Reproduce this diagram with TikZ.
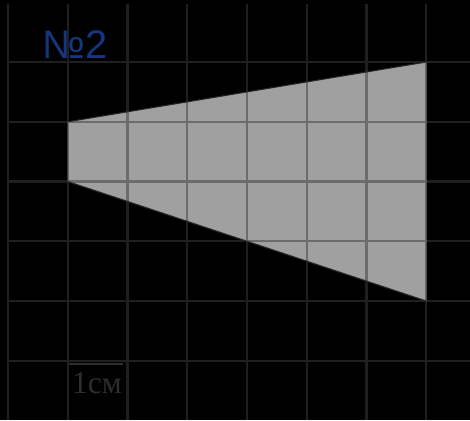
\documentclass[tikz,border=0pt]{standalone}
\usepackage{fontspec}
\setmainfont{Liberation Sans}
\newfontfamily\scalefont{Liberation Serif}
\usepackage{tikz}

\definecolor{gridgray}{HTML}{1F1F1F}
\definecolor{innergrid}{HTML}{6C6C6C}
\definecolor{figgray}{HTML}{A0A0A0}
\definecolor{titleblue}{HTML}{16357F}
\definecolor{scalegray}{HTML}{2E2E2E}

\begin{document}
\begin{tikzpicture}[gridline/.style={gridgray, line width=1pt}]
    \fill[black] (-0.134,1.038) rectangle (7.732,-5.992);
    \useasboundingbox (-0.134,1.038) rectangle (7.732,-5.992);

    % squared paper
    \foreach \i in {0,...,7}
        \draw[gridline] (\i,0.97) -- (\i,-5.992);
    \foreach \j in {0,...,5}
        \draw[gridline] (0,-\j) -- (7.732,-\j);

    % the trapezoid
    \fill[figgray] (1,-1) -- (7,0) -- (7,-4) -- (1,-2) -- cycle;
    \begin{scope}
        \clip (1,-1) -- (7,0) -- (7,-4) -- (1,-2) -- cycle;
        \foreach \i in {1,...,7}
            \draw[innergrid, line width=1pt] (\i,0.5) -- (\i,-4.5);
        \foreach \j in {0,...,4}
            \draw[innergrid, line width=1pt] (0.5,-\j) -- (7.5,-\j);
    \end{scope}
    \draw[black!85, line width=0.5pt] (1,-1) -- (7,0);
    \draw[black!85, line width=0.5pt] (1,-2) -- (7,-4);

    \node[titleblue, font=\fontsize{19}{21}\selectfont] (title) at (1.12,0.29) {№2};

    % scale
    \draw[scalegray, line width=1pt] (1.02,-5.05) -- (1.92,-5.05);
    \node[scalegray, font=\scalefont\fontsize{15}{17}\selectfont] (unit) at (1.49,-5.37) {1см};
\end{tikzpicture}
\end{document}
